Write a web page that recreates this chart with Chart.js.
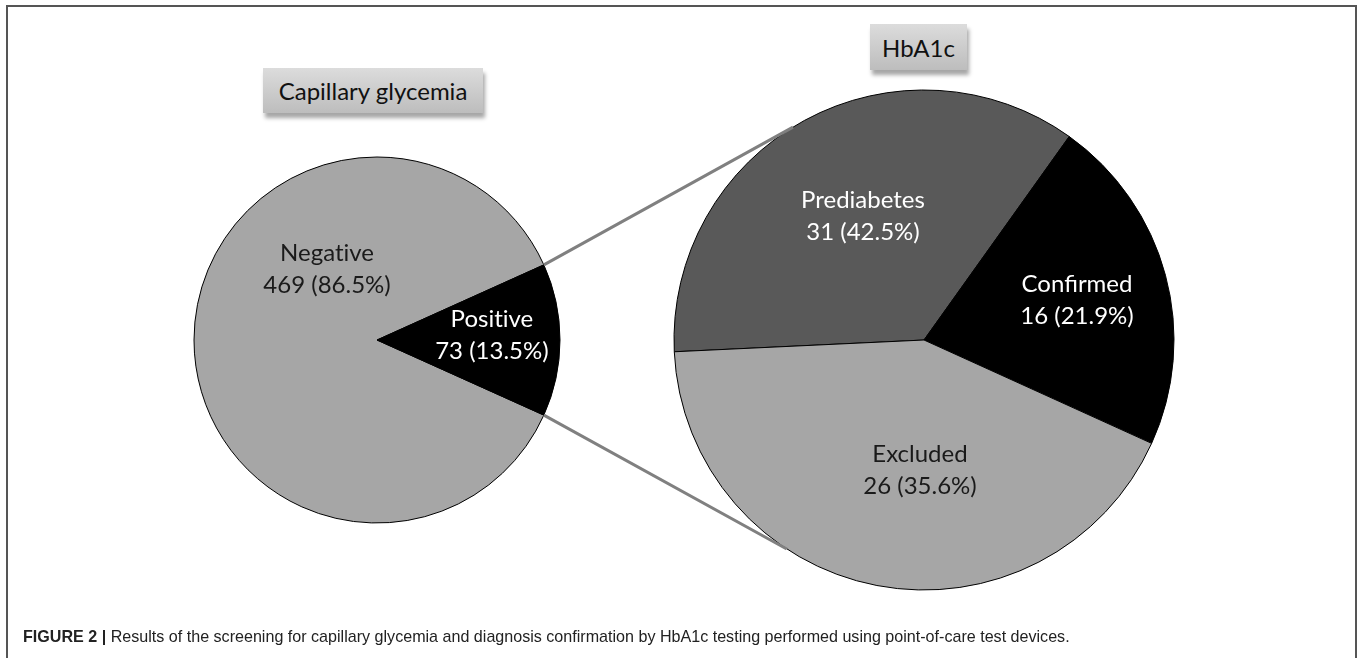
<!DOCTYPE html>
<html><head><meta charset="utf-8">
<script src="https://cdn.jsdelivr.net/npm/chart.js@4"></script>
<style>
html,body{margin:0;padding:0;background:#fff;width:1360px;height:658px;overflow:hidden;}
#frame{position:absolute;left:6px;top:5px;width:1351px;height:720px;border:2px solid #555;box-sizing:border-box;}
.cv{position:absolute;}
.tbox{position:absolute;background:linear-gradient(#dcdcdc,#bdbdbd);box-shadow:2px 5px 4px rgba(0,0,0,0.35);font-family:Lato,"Open Sans",sans-serif;font-size:24px;color:#111;display:flex;align-items:center;justify-content:center;font-variant-ligatures:none;}
#caption{position:absolute;left:23px;top:626px;font-family:"Liberation Sans",Arial,sans-serif;font-size:16.1px;line-height:20px;color:#222;white-space:nowrap;}
</style></head><body>
<div id="frame"></div>
<div class="tbox" style="left:263px;top:68px;width:220px;height:45px;">Capillary glycemia</div>
<div class="tbox" style="left:870px;top:24px;width:97px;height:46px;">HbA1c</div>
<div class="cv" style="left:177px;top:140px;"><canvas id="c1" width="400" height="400"></canvas></div>
<div class="cv" style="left:654px;top:70px;"><canvas id="c2" width="540" height="540"></canvas></div>
<canvas id="ov" width="1360" height="658" style="position:absolute;left:0;top:0;pointer-events:none"></canvas>
<div id="caption"><b>FIGURE 2 |</b> Results of the screening for capillary glycemia and diagnosis confirmation by HbA1c testing performed using point-of-care test devices.</div>
<script>
// ---- data ----
const glyLabels = ['Negative', 'Positive'];
const glyCounts = [469, 73];
const glyPercents = ['86.5', '13.5'];

const hba1cLabels = ['Prediabetes', 'Confirmed', 'Excluded'];
const hba1cCounts = [31, 16, 26];
const hba1cPercents = ['42.5', '21.9', '35.6'];
// wedge sizes as drawn in the reference figure (angles)
const hba1cWedgeSizes = [26, 16, 31];

const LIGHT = '#a6a6a6', DARK = '#595959', BLACK = '#000000';

// avoid the Lato "ti" ligature
const noLig = s => String(s).replace(/t(?=i)/g, 't\u200C');

const sliceText = {
  id: 'sliceText',
  afterDatasetsDraw(chart, args, opts) {
    const ctx = chart.ctx;
    const arc = chart.getDatasetMeta(0).data[0];
    const cx = arc.x, cy = arc.y, r = arc.outerRadius;
    ctx.save();
    ctx.font = opts.font;
    ctx.textAlign = 'center';
    ctx.textBaseline = 'middle';
    opts.items.forEach((it, i) => {
      const x = cx + it.anchor[0] * r, y = cy + it.anchor[1] * r;
      ctx.fillStyle = it.color;
      const lines = [noLig(opts.names[i]), opts.counts[i] + ' (' + opts.percents[i] + '%)'];
      ctx.fillText(lines[0], x, y - opts.lineHeight / 2);
      ctx.fillText(lines[1], x, y + opts.lineHeight / 2);
    });
    ctx.restore();
  }
};

const posShare = glyCounts[1] / (glyCounts[0] + glyCounts[1]) * 360;

const chart1 = new Chart(document.getElementById('c1'), {
  type: 'pie',
  data: { labels: glyLabels, datasets: [{ data: glyCounts, backgroundColor: [LIGHT, BLACK], borderColor: '#000', borderWidth: 1 }] },
  options: {
    responsive: false, animation: false, radius: 183,
    rotation: 90 + posShare / 2,
    layout: { padding: 0 },
    plugins: {
      legend: { display: false }, tooltip: { enabled: false },
      sliceText: {
        font: '24px Lato', lineHeight: 32,
        names: glyLabels, counts: glyCounts, percents: glyPercents,
        items: [{ anchor: [-0.273, -0.388], color: '#1a1a1a' }, { anchor: [0.628, -0.027], color: '#ffffff' }]
      }
    }
  },
  plugins: [sliceText]
});

const chart2 = new Chart(document.getElementById('c2'), {
  type: 'pie',
  data: { labels: hba1cLabels, datasets: [{ data: hba1cWedgeSizes, backgroundColor: [DARK, BLACK, LIGHT], borderColor: '#000', borderWidth: 1 }] },
  options: {
    responsive: false, animation: false, radius: 250,
    rotation: 267.3,
    layout: { padding: 0 },
    plugins: {
      legend: { display: false }, tooltip: { enabled: false },
      sliceText: {
        font: '24px Lato', lineHeight: 32,
        names: hba1cLabels, counts: hba1cCounts, percents: hba1cPercents,
        items: [{ anchor: [-0.244, -0.496], color: '#ffffff' }, { anchor: [0.612, -0.16], color: '#ffffff' }, { anchor: [-0.016, 0.52], color: '#1a1a1a' }]
      }
    }
  },
  plugins: [sliceText]
});

// ---- connector lines between the two pies ----
function drawConnectors() {
  const ov = document.getElementById('ov').getContext('2d');
  const r1 = document.getElementById('c1').getBoundingClientRect();
  const r2 = document.getElementById('c2').getBoundingClientRect();
  const pos = chart1.getDatasetMeta(0).data[1];
  const big = chart2.getDatasetMeta(0).data[0];
  const p = (el, rect, a) => [rect.left + el.x + el.outerRadius * Math.cos(a), rect.top + el.y + el.outerRadius * Math.sin(a)];
  const deg = Math.PI / 180;
  const a1 = p(pos, r1, pos.startAngle), b1 = p(big, r2, 238.4 * deg);
  const a2 = p(pos, r1, pos.endAngle), b2 = p(big, r2, 123.3 * deg);
  ov.strokeStyle = '#808080';
  ov.lineWidth = 3;
  ov.beginPath();
  ov.moveTo(a1[0], a1[1]); ov.lineTo(b1[0], b1[1]);
  ov.moveTo(a2[0], a2[1]); ov.lineTo(b2[0], b2[1]);
  ov.stroke();
}
drawConnectors();
</script>
</body></html>
